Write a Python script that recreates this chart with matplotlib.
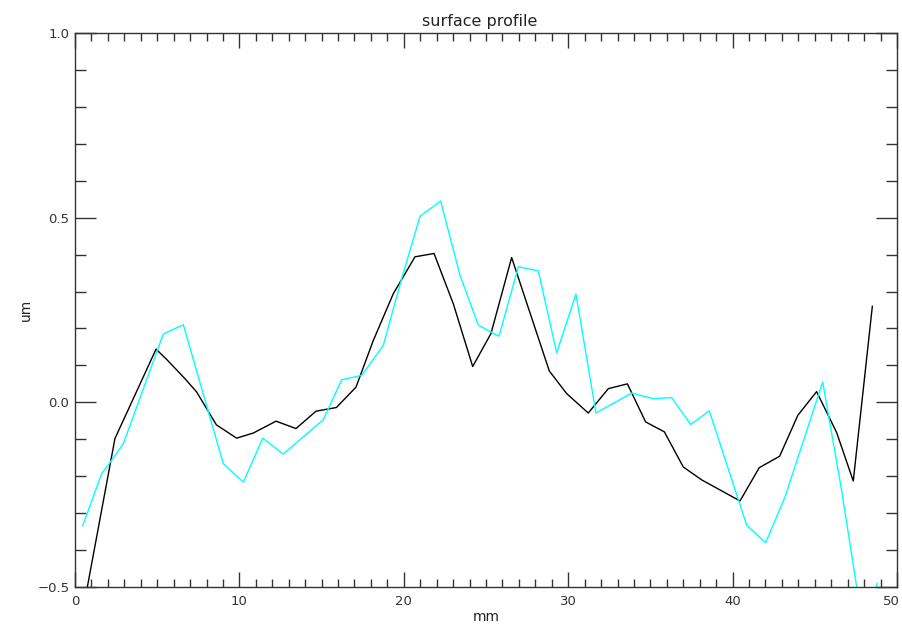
import matplotlib.pyplot as plt
from matplotlib.ticker import MultipleLocator

# profile from scan 1 (black)
scan1_mm = [0.5, 2.43, 4.93, 5.58, 6.69, 7.4, 8.6, 9.83, 10.85, 12.23, 13.44,
            14.66, 15.9, 17.09, 18.15, 19.36, 20.68, 21.84, 23.01, 24.19, 25.3,
            26.56, 28.85, 29.9, 31.22, 32.44, 33.6, 34.71, 35.85, 37.0, 38.12,
            40.45, 41.62, 42.86, 43.97, 45.11, 46.33, 47.34, 48.5]
scan1_um = [-0.56, -0.098, 0.144, 0.116, 0.064, 0.028, -0.061, -0.097, -0.083,
            -0.051, -0.071, -0.024, -0.014, 0.041, 0.168, 0.294, 0.394, 0.403,
            0.267, 0.097, 0.186, 0.392, 0.085, 0.024, -0.029, 0.037, 0.05,
            -0.053, -0.08, -0.175, -0.21, -0.267, -0.177, -0.146, -0.035,
            0.029, -0.082, -0.213, 0.26]

# profile from scan 2 (cyan)
scan2_mm = [0.47, 1.62, 2.23, 2.94, 5.37, 6.59, 9.02, 10.24, 11.42, 12.67,
            15.1, 16.22, 17.44, 18.75, 19.87, 20.99, 22.24, 23.42, 24.53,
            25.79, 26.97, 28.18, 29.3, 30.47, 31.69, 33.86, 35.18, 36.29,
            37.45, 38.58, 40.86, 42.01, 43.19, 45.48, 46.63, 47.9, 48.8]
scan2_um = [-0.334, -0.193, -0.157, -0.112, 0.185, 0.21, -0.166, -0.216,
            -0.097, -0.14, -0.047, 0.061, 0.073, 0.154, 0.335, 0.504, 0.545,
            0.344, 0.209, 0.179, 0.367, 0.356, 0.134, 0.293, -0.029, 0.025,
            0.01, 0.013, -0.06, -0.023, -0.333, -0.38, -0.256, 0.055, -0.238,
            -0.6, -0.49]

x_max = 50

fig = plt.figure(figsize=(9.03, 6.24), dpi=100)
ax = fig.add_axes([75 / 903, 37 / 624, 822 / 903, 554 / 624])

ax.plot(scan1_mm, scan1_um, color='black', lw=1.0)
ax.plot(scan2_mm, scan2_um, color='#00ffff', lw=1.0)

ax.set_xlim(0, x_max)
ax.set_ylim(-0.5, 1.0)
ax.xaxis.set_major_locator(MultipleLocator(10))
ax.xaxis.set_minor_locator(MultipleLocator(1))
ax.yaxis.set_major_locator(MultipleLocator(0.5))
ax.yaxis.set_minor_locator(MultipleLocator(0.1))
# the label at the right end is drawn separately, shifted a little inwards
ax.xaxis.set_major_formatter(plt.FuncFormatter(lambda v, p: '' if v >= x_max else f'{v:.0f}'))
ax.yaxis.set_major_formatter(plt.FuncFormatter(lambda v, p: f'{v:.1f}'.replace('-', '\u2212')))

ax.tick_params(which='both', direction='in', top=True, right=True,
               color='#333333', width=1.0, labelsize=9.5, labelcolor='#333333')
ax.tick_params(axis='x', which='major', length=11, pad=6)
ax.tick_params(axis='x', which='minor', length=6)
ax.tick_params(axis='y', which='major', length=15, pad=4)
ax.tick_params(axis='y', which='minor', length=8)
for s in ax.spines.values():
    s.set_color('#333333')
    s.set_linewidth(1.0)

ax.annotate(f'{x_max}', xy=(x_max, 0), xycoords=('data', 'axes fraction'),
            xytext=(-4, -6), textcoords='offset points', ha='center', va='top',
            fontsize=9.5, color='#333333')

ax.set_title('surface profile', fontsize=11.5, pad=5, color='#222222', x=0.492)
ax.set_xlabel('mm', fontsize=10, labelpad=1, color='#222222')
ax.set_ylabel('um', fontsize=10, labelpad=3, color='#222222')

fig.savefig('out.png', dpi=100)
